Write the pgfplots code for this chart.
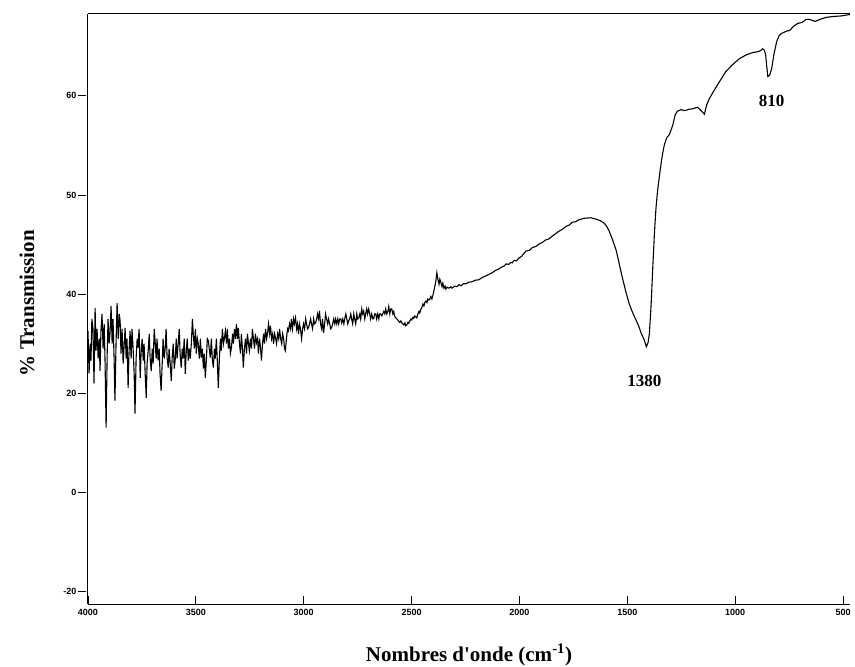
\documentclass[border=0pt]{standalone}
\usepackage{fontspec}
\setmainfont{Liberation Serif}
\newfontfamily\tickfont{Liberation Sans}
\usepackage{pgfplots}
\pgfplotsset{compat=1.18}

\begin{document}
\begin{tikzpicture}
\useasboundingbox (-88pt,-63pt) rectangle (767pt,604pt);
\begin{axis}[
    at={(0pt,0pt)}, anchor=south west,
    scale only axis, width=762pt, height=590pt,
    x dir=reverse,
    xmin=468, xmax=4000, ymin=-22.5, ymax=96.5,
    axis lines=left, axis line style={-, line width=1pt},
    tick align=inside, major tick length=8pt,
    tick style={black, line width=0.9pt},
    ytick style={xshift=-10pt},
    xtick={4000,3500,3000,2500,2000,1500,1000,500},
    xticklabels={4000,3500,3000,2500,2000,1500,1000,500},
    ytick={-20,0,20,40,60,80},
    yticklabels={-20,0,20,40,50,60},
    ticklabel style={font=\tickfont\bfseries\fontsize{9}{9}\selectfont},
    yticklabel style={xshift=-8pt},
    xticklabel style={yshift=-2pt},
    xlabel={\bfseries Nombres d\textquotesingle onde (cm\textsuperscript{-1})},
    ylabel={\bfseries \% Transmission},
    label style={font=\fontsize{21}{24}\selectfont},
    xlabel style={at={(axis description cs:0.5,-0.086)}, anchor=center},
    ylabel style={at={(axis description cs:-0.08,0.51)}, anchor=center},
    clip=false,
]
\addplot[black, line width=1.1pt] coordinates {
(4000,32.6) (3995,24) (3990,30) (3986,26.6) (3982,35) (3977,33.2) (3972,22)
(3967,37.2) (3963,28.6) (3958,33) (3953,27) (3948,31) (3944,24.5) (3940,32.6)
(3935,36) (3930,29) (3925,34) (3921,26.6) (3916,13.1) (3911,28) (3907,35)
(3902,30) (3898,32.0) (3893,37.6) (3888,30) (3884,35) (3879,27) (3875,18.5)
(3870,30) (3865,38.2) (3860,31) (3855,36) (3851,34.6) (3847,28.0) (3842,33)
(3837,26) (3832,30) (3828,33.2) (3823,27) (3819,31) (3814,21.1) (3810,28)
(3805,32.6) (3800,27) (3796,33) (3791,29.2) (3786,24) (3782,15.9) (3777,27)
(3772,31) (3768,29.2) (3763,33) (3758,23.1) (3754,28) (3749,31) (3744,26.6)
(3740,30) (3735,24) (3730,19.1) (3726,26) (3721,28.6) (3716,32) (3712,27)
(3707,24.5) (3702,29) (3698,26) (3693,33) (3689,30.6) (3684,27) (3680,31)
(3675,26.6) (3670,29) (3666,24) (3661,20.5) (3656,26) (3652,31) (3647,27)
(3642,29.2) (3638,33) (3633,27) (3628,25.2) (3624,29) (3619,26) (3614,22.5)
(3610,27) (3605,30) (3600,25) (3596,26.6) (3591,31) (3587,27) (3582,30.0)
(3577,33) (3573,28) (3568,25.2) (3563,29) (3559,27) (3554,31) (3549,23.9)
(3545,28) (3540,31) (3535,26.6) (3530,29) (3526,27) (3521,30) (3516,35)
(3512,32.0) (3507,29) (3502,33) (3498,28) (3493,31) (3489,30.0) (3484,27)
(3479,31) (3475,27.2) (3470,29) (3465,25) (3461,28) (3456,23.1) (3451,27)
(3447,31) (3442,30.6) (3438,29) (3433,27.2) (3428,31) (3424,27) (3419,25.2)
(3414,29) (3410,27) (3405,31) (3400,26) (3396,21.1) (3391,27) (3386,31)
(3382,28.6) (3377,33) (3372,30) (3368,31) (3363,32.6) (3358,30) (3354,33)
(3349,29) (3344,31) (3340,28) (3335,29.2) (3330,32) (3326,30) (3321,33)
(3316,31) (3312,34) (3307,31) (3303,33.2) (3298,30) (3293,28) (3289,32)
(3284,29) (3280,25.2) (3275,29) (3270,31) (3265,28) (3261,32) (3256,30)
(3252,28.6) (3247,31) (3242,29) (3238,33) (3233,31) (3228,29) (3224,32)
(3219,30.2) (3214,31) (3210,28) (3205,31) (3200,29) (3196,26.6) (3191,30)
(3186,32) (3182,30) (3177,33) (3172,31) (3168,32) (3163,34) (3158,32)
(3154,33.6) (3149,31) (3144,32) (3140,30) (3135,32) (3130,31) (3126,30.0)
(3121,32) (3116,31) (3112,33) (3107,31) (3102,30) (3098,32) (3093,31)
(3089,29) (3085,28.6) (3080,31) (3075,33) (3071,32.6) (3066,34) (3061,33)
(3057,35) (3052,33) (3047,35) (3043,34) (3038,35.2) (3033,33) (3029,34)
(3024,32) (3020,34) (3015,33) (3010,31.0) (3005,33) (3001,34) (2996,33)
(2991,35) (2987,34) (2982,33) (2978,33.2) (2973,34) (2968,35) (2964,34)
(2959,33) (2954,35) (2950,34) (2945,34.2) (2940,35) (2936,36) (2931,35)
(2927,36.6) (2922,34) (2917,33) (2913,35) (2908,32.2) (2903,34) (2899,36)
(2894,35.0) (2889,34) (2885,35) (2880,34) (2875,33) (2871,33.2) (2866,34)
(2861,35) (2856,34) (2852,35) (2847,34) (2842,35) (2838,34) (2833,35)
(2828,35) (2824,34.2) (2819,35) (2814,34) (2810,35) (2805,36) (2800,35)
(2796,34) (2792,34.6) (2787,35) (2782,36) (2778,35) (2773,34) (2768,36)
(2764,35) (2759,34) (2754,36) (2750,35) (2745,35.2) (2740,36) (2736,35)
(2731,37) (2727,36) (2722,36.6) (2717,35) (2713,36) (2708,37) (2704,36)
(2699,37.0) (2694,36) (2690,35) (2685,36) (2680,35) (2676,35.0) (2671,36)
(2666,36) (2662,35) (2657,36) (2652,35) (2648,36) (2643,36) (2638,35.6)
(2634,36) (2629,36.5) (2624,36) (2620,37) (2615,36) (2610,36.5) (2606,37.5)
(2601,36) (2597,37) (2592,37.0) (2587,36) (2583,36.5) (2578,35.5) (2573,35.2)
(2569,35) (2564,34.8) (2559,34.5) (2555,34.3) (2550,34.6) (2545,34.2) (2541,34)
(2536,33.8) (2531,34.2) (2527,33.6) (2522,33.8) (2517,34.3) (2513,34.1)
(2508,34.6) (2503,35) (2499,34.8) (2494,35.3) (2490,35.1) (2485,35.6)
(2480,35.4) (2476,35.2) (2471,36) (2466,36.5) (2462,36.2) (2457,37) (2453,37.2)
(2448,38) (2443,37.6) (2439,38.3) (2434,38.6) (2429,38.3) (2425,39) (2420,38.8)
(2415,39) (2411,39.5) (2406,39.0) (2400,40) (2395,41) (2388,42.5) (2383,44.3)
(2378,43) (2373,42) (2369,43) (2364,42.3) (2359,41.5) (2355,42.2) (2350,41.2)
(2345,41.6) (2341,41.0) (2336,41.4) (2327,41.2) (2318,41.5) (2313,41.2)
(2300,41.6) (2290,41.5) (2280,41.9) (2270,41.7) (2260,42.1) (2248,42.1)
(2235,42.4) (2220,42.5) (2205,42.8) (2188,42.9) (2175,43.3) (2160,43.6)
(2145,43.9) (2127,44.3) (2110,44.8) (2095,45.1) (2080,45.5) (2070,45.7)
(2062,46.1) (2050,46.0) (2040,46.4) (2034,46.3) (2025,46.8) (2015,46.7)
(2002,47.3) (1990,47.6) (1980,48.2) (1969,48.7) (1955,48.8) (1940,49.4)
(1925,49.6) (1909,50.1) (1895,50.4) (1880,50.9) (1865,51.1) (1848,51.7)
(1835,52.1) (1820,52.6) (1800,53.1) (1783,53.7) (1770,53.9) (1755,54.5)
(1740,54.6) (1725,55.0) (1715,55.1) (1700,55.3) (1670,55.4) (1644,55.1)
(1625,54.8) (1607,54.3) (1595,53.6) (1584,52.7) (1568,50.9) (1551,48.7)
(1537,46.0) (1523,43.3) (1507,40.5) (1491,38.0) (1475,36.2) (1458,34.6)
(1446,33.4) (1435,32.0) (1422,30.8) (1412,29.4) (1404,30.2) (1398,32.0)
(1393,35.5) (1389,38.6) (1382,45.5) (1374,52.7) (1367,57.5) (1360,60.8)
(1350,64.3) (1342,66.8) (1335,68.7) (1328,70.2) (1318,71.5) (1305,72.2)
(1290,74.0) (1278,76.2) (1268,76.9) (1250,77.2) (1235,77.0) (1212,77.3)
(1195,77.4) (1175,77.7) (1160,77.1) (1143,76.3) (1132,78.2) (1119,79.5)
(1095,81.3) (1072,82.9) (1045,84.8) (1012,86.3) (980,87.5) (947,88.3)
(920,88.7) (896,88.9) (882,89.1) (873,89.5) (865,89.2) (859,88.3) (854,86.0)
(849,83.9) (840,84.2) (831,85.5) (820,88.5) (808,90.9) (796,92.2) (784,92.6)
(765,93.0) (747,93.2) (730,94.0) (710,94.6) (690,94.8) (672,95.4) (654,95.4)
(630,95.0) (608,95.4) (580,95.8) (547,96.0) (510,96.1) (468,96.4)
};
\draw[line width=1pt] (rel axis cs:0,1) -- (rel axis cs:1,1);
\node[font=\bfseries\fontsize{17}{17}\selectfont] at (axis cs:1421,22.5) {1380};
\node[font=\bfseries\fontsize{17}{17}\selectfont] at (axis cs:831,78.9) {810};
\end{axis}
\end{tikzpicture}
\end{document}
